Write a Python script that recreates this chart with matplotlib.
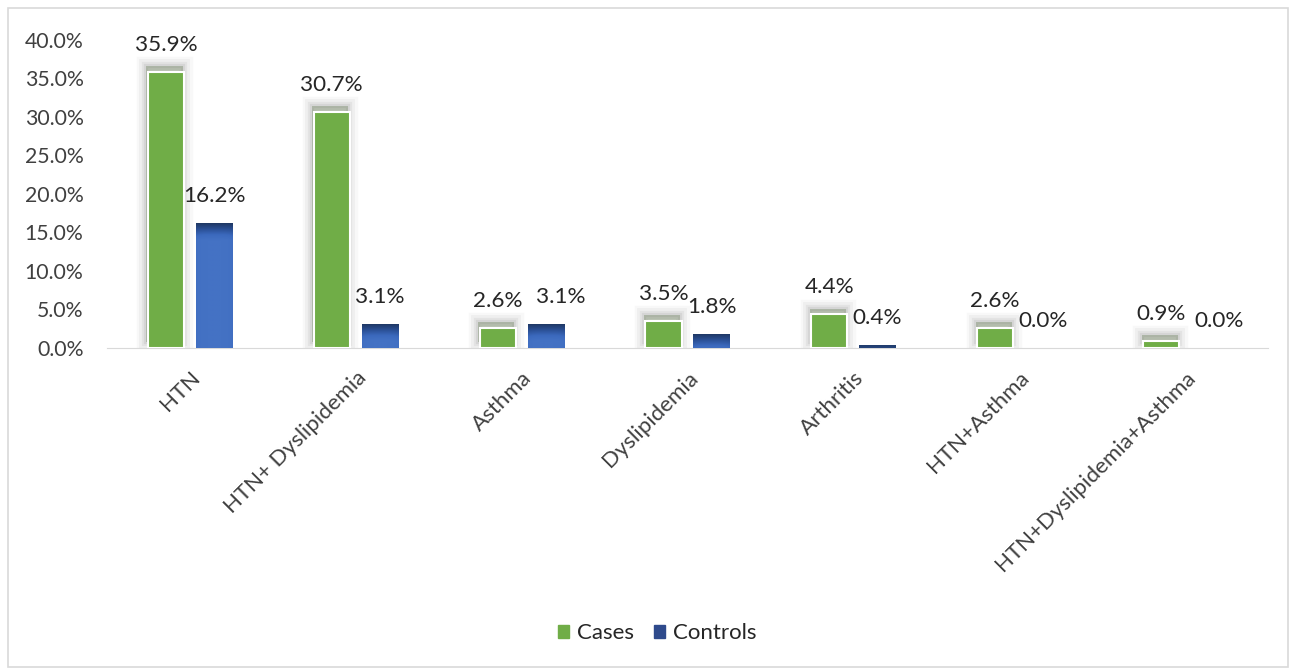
import numpy as np
import matplotlib.pyplot as plt
from matplotlib.ticker import FuncFormatter
from matplotlib.patches import Rectangle
from matplotlib.colors import LinearSegmentedColormap
import matplotlib.patheffects as pe

categories = ['HTN', 'HTN+ Dyslipidemia', 'Asthma', 'Dyslipidemia', 'Arthritis',
              'HTN+Asthma', 'HTN+Dyslipidemia+Asthma']
cases = [35.9, 30.7, 2.6, 3.5, 4.4, 2.6, 0.9]
controls = [16.2, 3.1, 3.1, 1.8, 0.4, 0.0, 0.0]

plt.rcParams['font.family'] = ['Lato', 'DejaVu Sans']

fig = plt.figure(figsize=(12.96, 6.71), dpi=100)
ax = fig.add_axes([0.0826, 0.4814, 0.8958, 0.459])

x = np.arange(len(categories))
w = 0.218
off = 0.145

# soft blurred shadow (mostly above) of the green bars
shadow = []
for lw, a in [(14, 0.04), (10, 0.06), (6, 0.08), (3, 0.1)]:
    shadow.append(pe.Stroke(offset=(-1, 4), linewidth=lw, foreground='#606060', alpha=a))
shadow.append(pe.SimplePatchShadow(offset=(-1, 4), shadow_rgbFace='#8c8c8c', alpha=0.3))
shadow.append(pe.Normal())

b1 = ax.bar(x - off, cases, w, color='#70ad47', edgecolor='white', linewidth=1.5,
            label='Cases', zorder=3, path_effects=shadow)
b2 = ax.bar(x + off, controls, w, color='#4472c4', linewidth=0, label='Controls', zorder=3)

# bevel-like gradient on Controls bars: dark navy at the top
cmap = LinearSegmentedColormap.from_list('blu', ['#1f3864', '#2a4f94', '#3b69bd', '#4472c4'])
bevel = 2.2
for bar in b2:
    h = bar.get_height()
    if h <= 0:
        continue
    x0 = bar.get_x()
    ys = np.linspace(0, h, 200)
    vals = np.clip((h - ys) / bevel, 0, 1).reshape(-1, 1)
    xs = np.linspace(-1, 1, 40)
    vals = vals * (1 - 0.12 * xs ** 4).reshape(1, -1)
    im = ax.imshow(vals, cmap=cmap, vmin=0, vmax=1, aspect='auto', origin='lower',
                   extent=[x0, x0 + bar.get_width(), 0, h], zorder=4, interpolation='bilinear')
    im.set_clip_path(bar)

# label nudges (points) where Excel moved labels apart
ctrl_dx = {'Asthma': 11, 'HTN+Dyslipidemia+Asthma': 7}

for xi, v in zip(x - off, cases):
    ax.annotate(f'{v:.1f}%', (xi, v), xytext=(0, 15), textcoords='offset points',
                ha='center', va='baseline', fontsize=16.2, color='#262626')
for i, (xi, v) in enumerate(zip(x + off, controls)):
    dx = ctrl_dx.get(categories[i], 0)
    ax.annotate(f'{v:.1f}%', (xi, v), xytext=(dx, 15), textcoords='offset points',
                ha='center', va='baseline', fontsize=16.2, color='#262626')

ax.set_xlim(-0.5, len(categories) - 0.5)
ax.set_ylim(0, 40)
ax.set_yticks(np.arange(0, 41, 5))
ax.yaxis.set_major_formatter(FuncFormatter(lambda v, pos: f'{v:.1f}%'))
ax.set_xticks(x)
ax.set_xticklabels(categories, rotation=45, ha='right', rotation_mode='anchor')
ax.tick_params(axis='both', length=0, colors='#404040')
ax.tick_params(axis='x', pad=14, labelsize=16)
ax.tick_params(axis='y', pad=17, labelsize=15.3)

for s in ['top', 'right', 'left']:
    ax.spines[s].set_visible(False)
ax.spines['bottom'].set_color('#d9d9d9')

handles = [Rectangle((0, 0), 1, 1, color='#70ad47'), Rectangle((0, 0), 1, 1, color='#2e4a8c')]
fig.legend(handles, ['Cases', 'Controls'], loc='center', bbox_to_anchor=(0.507, 0.056),
           ncol=2, frameon=False, fontsize=16, handlelength=0.5, handleheight=0.5,
           handletextpad=0.35, columnspacing=0.9, labelcolor='#262626')

fig.patches.append(Rectangle((0.006, 0.006), 0.988, 0.982, transform=fig.transFigure,
                             fill=False, edgecolor='#d9d9d9', linewidth=1.2))

fig.savefig('out.png', dpi=100)
